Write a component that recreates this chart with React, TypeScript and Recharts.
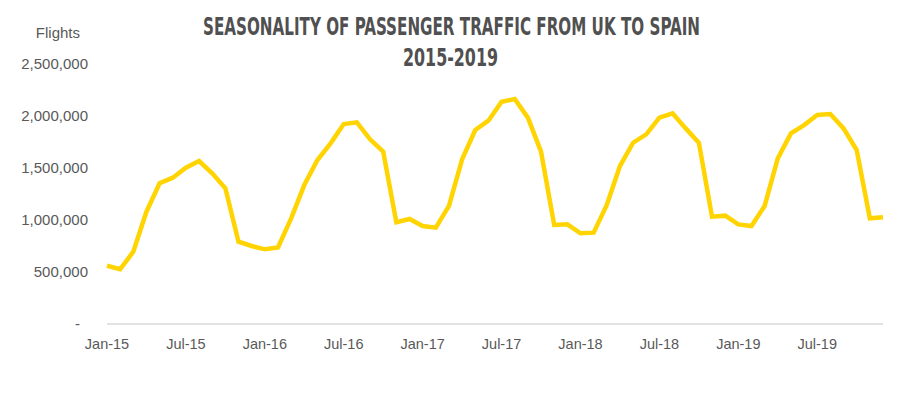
import React from 'react';
import { LineChart, Line, XAxis, YAxis } from 'recharts';

const MONTHS = ['Jan', 'Feb', 'Mar', 'Apr', 'May', 'Jun', 'Jul', 'Aug', 'Sep', 'Oct', 'Nov', 'Dec'];
const YEARS = ['15', '16', '17', '18', '19'];

// passengers per month, Jan-15 .. Dec-19
const PASSENGERS = [
  560000, 526000, 695000, 1080000, 1353000, 1407000, 1503000, 1567000, 1449000, 1305000, 791000, 750000,
  718000, 737000, 1016000, 1336000, 1577000, 1737000, 1923000, 1939000, 1776000, 1657000, 978000, 1010000,
  942000, 926000, 1135000, 1583000, 1865000, 1955000, 2137000, 2163000, 1984000, 1657000, 952000, 958000,
  872000, 878000, 1144000, 1519000, 1743000, 1824000, 1984000, 2026000, 1881000, 1743000, 1032000, 1042000,
  958000, 942000, 1135000, 1593000, 1833000, 1913000, 2009000, 2019000, 1881000, 1673000, 1016000, 1026000,
];

const Y_TICKS = [0, 500000, 1000000, 1500000, 2000000, 2500000];

const TITLE_1 = 'SEASONALITY OF PASSENGER TRAFFIC FROM UK TO SPAIN';
const TITLE_2 = '2015-2019';

const data = YEARS.flatMap((y, yi) =>
  MONTHS.map((m, mi) => ({ month: `${m}-${y}`, passengers: PASSENGERS[yi * 12 + mi] }))
);

const TEXT = '#595959';
const FONT = '"Liberation Sans", Arial, sans-serif';

const YTick = (props: any) => {
  const { x, y, payload } = props;
  const v = payload.value as number;
  const label = v === 0 ? '-' : v.toLocaleString('en-US');
  return (
    <text x={v === 0 ? x - 8 : x} y={y} dy="0.355em" textAnchor="end" fill={TEXT} fontSize={15} fontFamily={FONT}>
      {label}
    </text>
  );
};

export default function App() {
  return (
    <div style={{ position: 'absolute', left: 0, top: 0, width: 902, height: 393, background: '#fff' }}>
      <LineChart width={902} height={393} data={data} margin={{ top: 64, right: 19, left: 0, bottom: 39 }}>
        <XAxis
          dataKey="month"
          interval={5}
          tickLine={false}
          tickSize={0}
          tickMargin={15}
          axisLine={{ stroke: '#d9d9d9', strokeWidth: 1.5 }}
          tick={{ fill: TEXT, fontSize: 14.5, fontFamily: FONT }}
          height={30}
        />
        <YAxis
          domain={[0, 2500000]}
          ticks={Y_TICKS}
          width={107}
          axisLine={false}
          tickLine={false}
          tickSize={0}
          tickMargin={19}
          tick={<YTick />}
        />
        <Line
          type="linear"
          dataKey="passengers"
          stroke="#FFD400"
          strokeWidth={4.5}
          dot={false}
          isAnimationActive={false}
        />
      </LineChart>
      <svg width={902} height={393} style={{ position: 'absolute', left: 0, top: 0, pointerEvents: 'none' }}>
        <text x={80} y={38} textAnchor="end" fill={TEXT} fontSize={15} fontFamily={FONT}>
          Flights
        </text>
        <text
          x={203}
          y={35}
          textLength={497}
          lengthAdjust="spacingAndGlyphs"
          fill="#505050"
          fontSize={25}
          fontWeight="bold"
          fontFamily='"Liberation Sans Narrow", "DejaVu Sans Condensed", sans-serif'
        >
          {TITLE_1}
        </text>
        <text
          x={403}
          y={66}
          textLength={95}
          lengthAdjust="spacingAndGlyphs"
          fill="#505050"
          fontSize={25}
          fontWeight="bold"
          fontFamily='"Liberation Sans Narrow", "DejaVu Sans Condensed", sans-serif'
        >
          {TITLE_2}
        </text>
      </svg>
    </div>
  );
}
